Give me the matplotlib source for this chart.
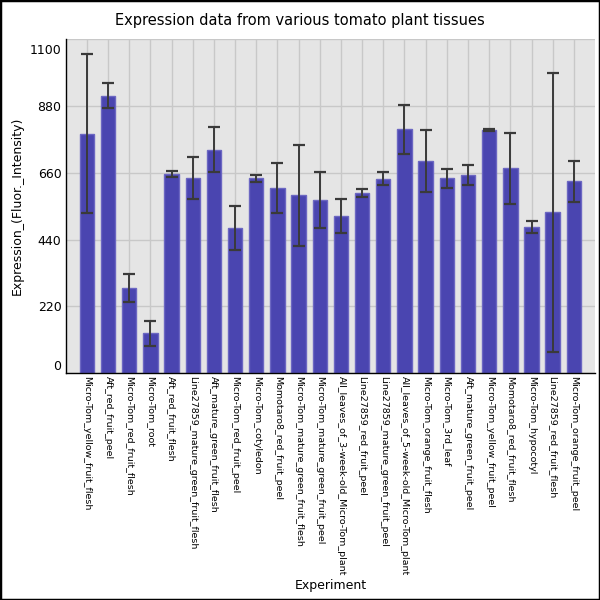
import matplotlib
matplotlib.use("Agg")
import matplotlib.pyplot as plt
import matplotlib.transforms as mtransforms
import numpy as np

categories = [
    "Micro-Tom_yellow_fruit_flesh", "Aft_red_fruit_peel", "Micro-Tom_red_fruit_flesh",
    "Micro-Tom_root", "Aft_red_fruit_flesh", "Line27859_mature_green_fruit_flesh",
    "Aft_mature_green_fruit_flesh", "Micro-Tom_red_fruit_peel", "Micro-Tom_cotyledon",
    "Momotaro8_red_fruit_peel", "Micro-Tom_mature_green_fruit_flesh",
    "Micro-Tom_mature_green_fruit_peel", "All_leaves_of_3-week-old_Micro-Tom_plant",
    "Line27859_red_fruit_peel", "Line27859_mature_green_fruit_peel",
    "All_leaves_of_5-week-old_Micro-Tom_plant", "Micro-Tom_orange_fruit_flesh",
    "Micro-Tom_3rd_leaf", "Aft_mature_green_fruit_peel", "Micro-Tom_yellow_fruit_peel",
    "Momotaro8_red_fruit_flesh", "Micro-Tom_hypocotyl", "Line27859_red_fruit_flesh",
    "Micro-Tom_orange_fruit_peel",
]
values = [788, 914, 280, 131, 656, 642, 735, 478, 641, 609, 586, 570, 517, 594,
          640, 803, 699, 642, 652, 800, 674, 482, 529, 632]
errors = [261, 41, 47, 41, 9, 69, 74, 73, 13, 83, 166, 91, 57, 13,
          22, 81, 102, 31, 33, 3, 116, 20, 460, 67]
yticks = [0, 220, 440, 660, 880, 1100]

fig = plt.figure(figsize=(6, 6), dpi=100)
fig.patch.set_facecolor("white")
ax = fig.add_axes([0.1095, 0.378, 0.8822, 0.557])
ax.set_facecolor("#e5e5e5")

x = np.arange(len(categories))
ax.bar(x, values, width=0.68, color="#4a45b0", edgecolor="#6c67c2", linewidth=1, zorder=2)
_, caps, _ = ax.errorbar(x, values, yerr=errors, fmt="none", ecolor="#3a3a3a",
                         elinewidth=1.4, capsize=4.4, capthick=1.6, zorder=3)
for c in caps:
    c.set_color("black")

ax.set_xlim(-1, len(categories))
ax.set_ylim(0, 1100)
ax.set_xticks(x)
ax.set_xticklabels(categories, rotation=-90, fontsize=6.8, va="top", ha="center")
ax.set_yticks(yticks)
ax.set_yticklabels([str(t) for t in yticks], fontsize=9)
ax.tick_params(axis="y", length=0, pad=3)
ax.tick_params(axis="x", length=0, pad=2)
ax.grid(True, color="#c8c8c8", linewidth=1, zorder=0)
ax.set_axisbelow(True)

for s in ["top", "right"]:
    ax.spines[s].set_visible(False)
for s in ["left", "bottom"]:
    ax.spines[s].set_color("black")
    ax.spines[s].set_linewidth(1)

ylabels = ax.get_yticklabels()
ylabels[0].set_va("bottom")
ylabels[-1].set_transform(ylabels[-1].get_transform() +
                          mtransforms.ScaledTranslation(0, -10 / 100, fig.dpi_scale_trans))

ax.set_ylabel("Expression_(Fluor._Intensity)", fontsize=9, labelpad=4)
ax.set_xlabel("Experiment", fontsize=9, va="center")
ax.xaxis.set_label_coords(0.5, -0.635)
fig.text(0.5, 0.965, "Expression data from various tomato plant tissues",
         ha="center", va="center", fontsize=10.5)

fig.patches.append(plt.Rectangle((0, 0), 1, 1, transform=fig.transFigure,
                                 fill=False, edgecolor="black", linewidth=2.5))

fig.savefig("out.png", dpi=100)
